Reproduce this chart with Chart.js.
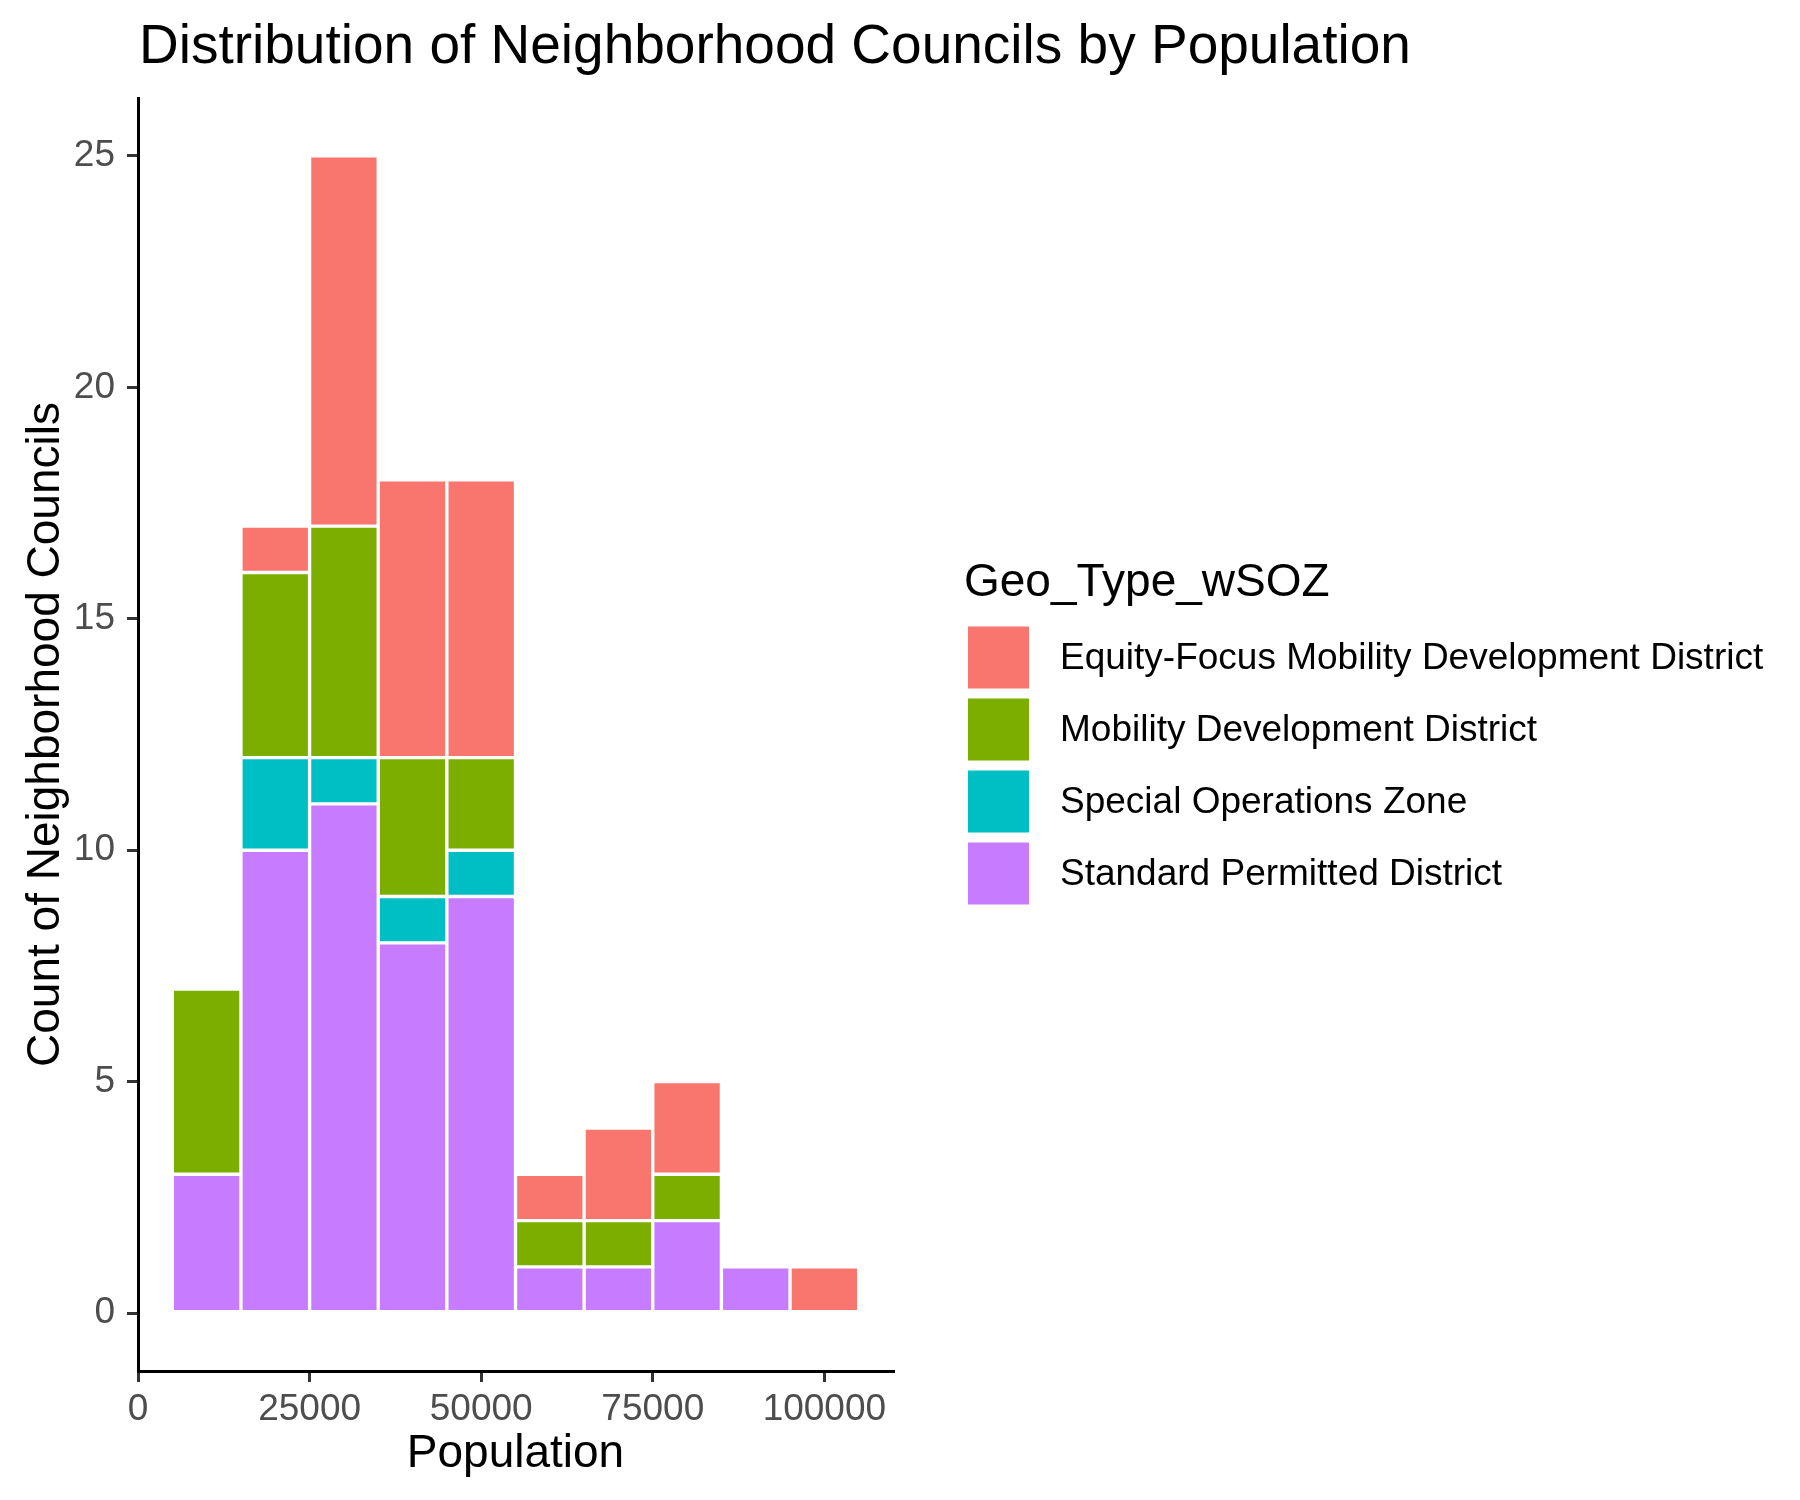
<!DOCTYPE html>
<html>
<head>
<meta charset="utf-8">
<script src="https://cdn.jsdelivr.net/npm/chart.js@4/dist/chart.umd.min.js"></script>
<style>
  html, body { margin: 0; padding: 0; background: #ffffff; }
  #wrap { width: 1800px; height: 1500px; position: relative; }
</style>
</head>
<body>
<div id="wrap"><canvas id="c" width="1800" height="1500"></canvas></div>
<script>
// ---- Data ----
const binCenters = [10000, 20000, 30000, 40000, 50000, 60000, 70000, 80000, 90000, 100000];
const standardPermitted = [3, 10, 11, 8, 9, 1, 1, 2, 1, 0];
const specialOperations = [0, 2, 1, 1, 1, 0, 0, 0, 0, 0];
const mobilityDevelopment = [4, 4, 5, 3, 2, 1, 1, 1, 0, 0];
const equityFocus = [0, 1, 8, 6, 6, 1, 2, 2, 0, 1];
const xTicks = [0, 25000, 50000, 75000, 100000];
const yTicks = [0, 5, 10, 15, 20, 25];
const seriesNames = ["Standard Permitted District", "Special Operations Zone", "Mobility Development District", "Equity-Focus Mobility Development District"];
const seriesColors = ["#C77CFF", "#00BFC4", "#7CAE00", "#F8766D"];

const titleText = "Distribution of Neighborhood Councils by Population";
const xTitle = "Population";
const yTitle = "Count of Neighborhood Councils";
const legendTitle = "Geo_Type_wSOZ";

const FONT = 'Arial, "Liberation Sans", Helvetica, sans-serif';

function toPoints(vals) {
  return binCenters.map((x, i) => ({ x: x, y: vals[i] === 0 ? null : vals[i] }));
}
const seriesValues = [standardPermitted, specialOperations, mobilityDevelopment, equityFocus];
const datasets = seriesValues.map((vals, i) => ({
  label: seriesNames[i],
  data: toPoints(vals),
  backgroundColor: seriesColors[i],
  borderColor: "#ffffff",
  borderWidth: 2,
  borderSkipped: false,
  barPercentage: 1.0,
  categoryPercentage: 1.0
}));

const AREA = { left: 138, right: 893, top: 98, bottom: 1371 };

const decor = {
  id: 'decor',
  afterDraw(chart) {
    const ctx = chart.ctx;
    const ca = chart.chartArea;
    ctx.save();
    // Title
    ctx.fillStyle = '#000000';
    ctx.font = '55px ' + FONT;
    ctx.textAlign = 'left';
    ctx.textBaseline = 'alphabetic';
    ctx.fillText(titleText, 139, 63);
    // X title
    ctx.font = '46px ' + FONT;
    ctx.textAlign = 'center';
    ctx.fillText(xTitle, (ca.left + ca.right) / 2, 1467);
    // Y title
    ctx.save();
    ctx.translate(59, (ca.top + ca.bottom) / 2);
    ctx.rotate(-Math.PI / 2);
    ctx.textAlign = 'center';
    ctx.fillText(yTitle, 0, 0);
    ctx.restore();
    // Legend
    ctx.textAlign = 'left';
    ctx.font = '46px ' + FONT;
    ctx.fillText(legendTitle, 964, 596);
    ctx.font = '37px ' + FONT;
    ctx.textBaseline = 'middle';
    const order = [3, 2, 1, 0];
    order.forEach((dsIdx, k) => {
      const cy = 657.5 + k * 72;
      ctx.fillStyle = seriesColors[dsIdx];
      ctx.fillRect(968, cy - 31, 61, 62);
      ctx.fillStyle = '#000000';
      ctx.fillText(chart.data.datasets[dsIdx].label, 1060, cy + 1);
    });
    ctx.restore();
  }
};

new Chart(document.getElementById('c'), {
  type: 'bar',
  data: { datasets: datasets },
  options: {
    responsive: false,
    animation: false,
    devicePixelRatio: 1,
    layout: { padding: { left: 0, top: AREA.top, right: 1800 - AREA.right, bottom: 0 } },
    plugins: {
      legend: { display: false },
      title: { display: false },
      tooltip: { enabled: false }
    },
    scales: {
      x: {
        type: 'linear',
        stacked: true,
        min: 0,
        max: 110000,
        offset: false,
        afterBuildTicks: (s) => { s.ticks = xTicks.map(v => ({ value: v })); },
        afterFit: (s) => { s.height = 1500 - AREA.bottom; },
        ticks: {
          color: '#4D4D4D',
          font: { family: FONT, size: 37 },
          padding: 6,
          maxRotation: 0,
          autoSkip: false,
          callback: (v) => String(v)
        },
        grid: { offset: false, drawOnChartArea: false, drawTicks: true, tickLength: 11, color: '#333333', lineWidth: 3 },
        border: { display: true, color: '#000000', width: 3 }
      },
      y: {
        type: 'linear',
        stacked: true,
        min: -1.25,
        max: 26.25,
        afterBuildTicks: (s) => { s.ticks = yTicks.map(v => ({ value: v })); },
        afterFit: (s) => { s.width = AREA.left; },
        ticks: {
          color: '#4D4D4D',
          font: { family: FONT, size: 37 },
          padding: 12,
          autoSkip: false,
          callback: (v) => String(v)
        },
        grid: { offset: false, drawOnChartArea: false, drawTicks: true, tickLength: 11, color: '#333333', lineWidth: 3 },
        border: { display: true, color: '#000000', width: 3 }
      }
    }
  },
  plugins: [decor]
});
</script>
</body>
</html>
